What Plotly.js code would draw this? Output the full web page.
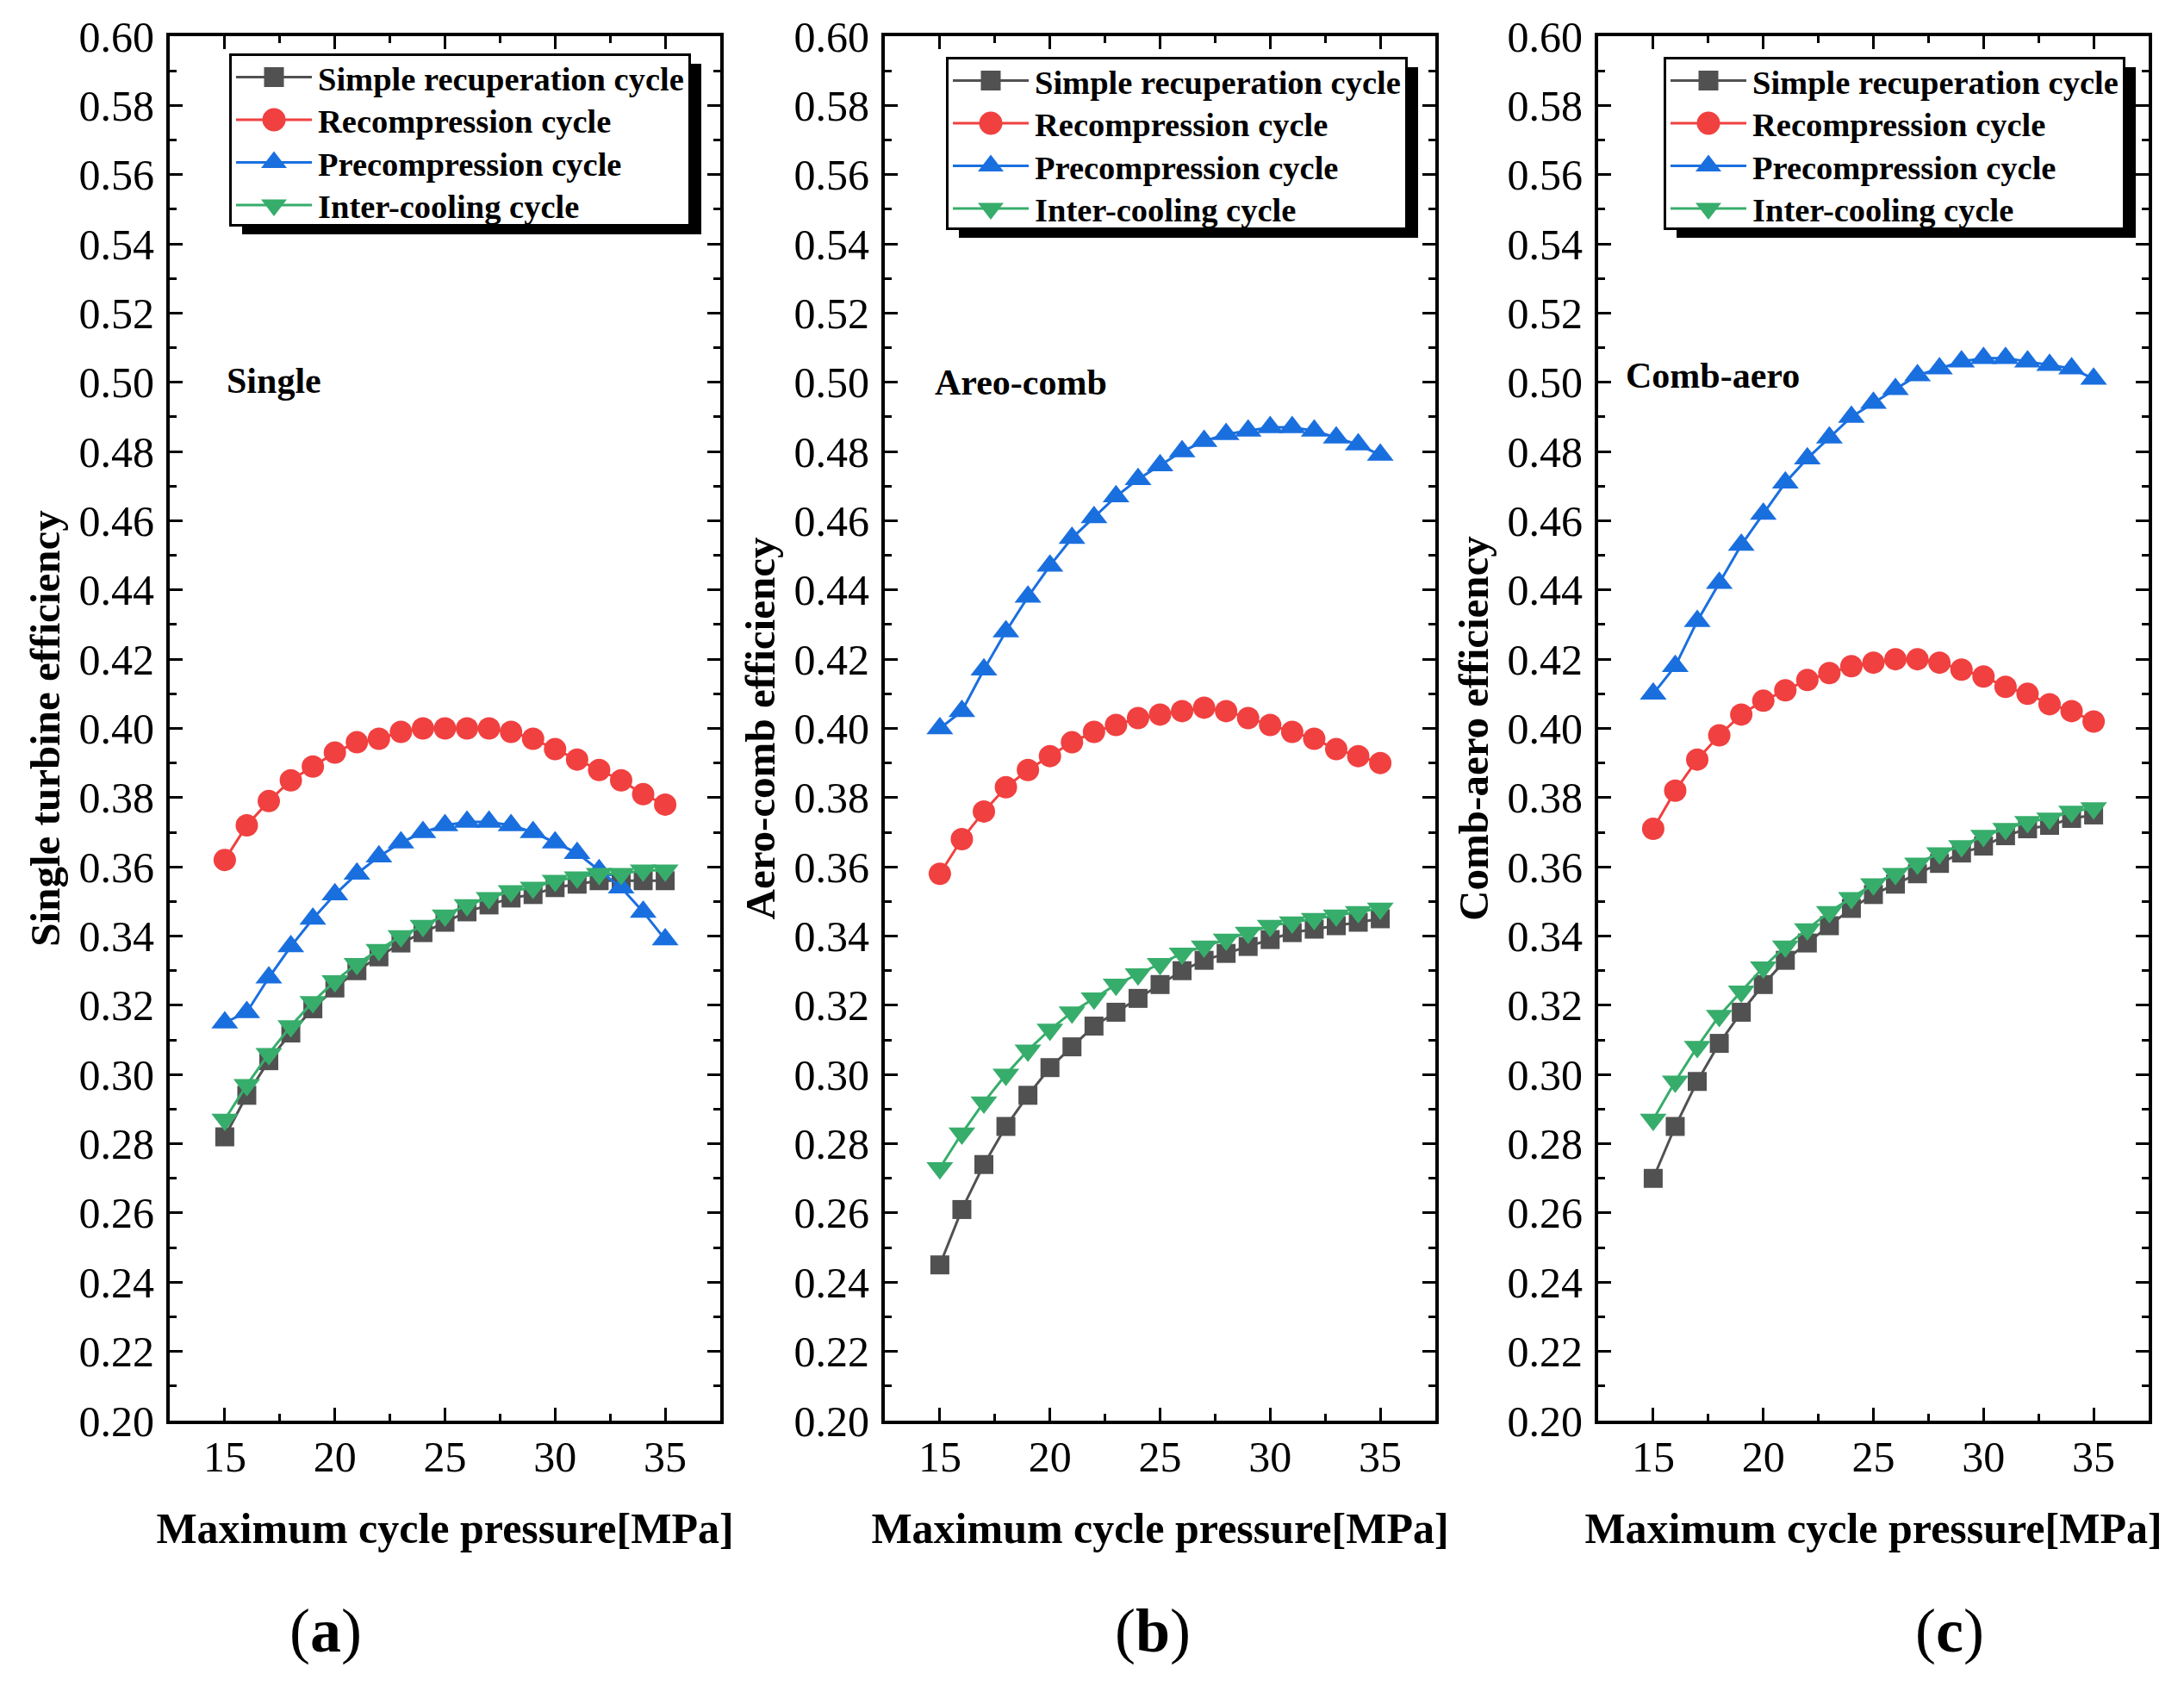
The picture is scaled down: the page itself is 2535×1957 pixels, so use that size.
<!DOCTYPE html>
<html>
<head>
<meta charset="utf-8">
<script src="https://cdn.plot.ly/plotly-3.0.1.min.js"></script>
<style>
  html, body { margin: 0; padding: 0; background: #fff; }
  #chart { width: 2535px; height: 1957px; }
</style>
</head>
<body>
<div id="chart"></div>
<script>
// ---------------- data ----------------
const pressure = [15, 16, 17, 18, 19, 20, 21, 22, 23, 24, 25, 26, 27, 28, 29, 30, 31, 32, 33, 34, 35];

const seriesNames = ["Simple recuperation cycle", "Recompression cycle", "Precompression cycle", "Inter-cooling cycle"];

// (a) Single
const singleSimple  = [0.282, 0.294, 0.304, 0.312, 0.319, 0.325, 0.330, 0.334, 0.338, 0.341, 0.344, 0.347, 0.349, 0.351, 0.352, 0.354, 0.355, 0.356, 0.356, 0.356, 0.356];
const singleRecomp  = [0.362, 0.372, 0.379, 0.385, 0.389, 0.393, 0.396, 0.397, 0.399, 0.400, 0.400, 0.400, 0.400, 0.399, 0.397, 0.394, 0.391, 0.388, 0.385, 0.381, 0.378];
const singlePrecomp = [0.315, 0.318, 0.328, 0.337, 0.345, 0.352, 0.358, 0.363, 0.367, 0.370, 0.372, 0.373, 0.373, 0.372, 0.370, 0.367, 0.364, 0.359, 0.354, 0.347, 0.339];
const singleInter   = [0.287, 0.297, 0.306, 0.314, 0.321, 0.327, 0.332, 0.336, 0.340, 0.343, 0.346, 0.349, 0.351, 0.353, 0.354, 0.356, 0.357, 0.358, 0.358, 0.359, 0.359];

// (b) Aero-comb
const aeroSimple  = [0.245, 0.261, 0.274, 0.285, 0.294, 0.302, 0.308, 0.314, 0.318, 0.322, 0.326, 0.330, 0.333, 0.335, 0.337, 0.339, 0.341, 0.342, 0.343, 0.344, 0.345];
const aeroRecomp  = [0.358, 0.368, 0.376, 0.383, 0.388, 0.392, 0.396, 0.399, 0.401, 0.403, 0.404, 0.405, 0.406, 0.405, 0.403, 0.401, 0.399, 0.397, 0.394, 0.392, 0.390];
const aeroPrecomp = [0.400, 0.405, 0.417, 0.428, 0.438, 0.447, 0.455, 0.461, 0.467, 0.472, 0.476, 0.480, 0.483, 0.485, 0.486, 0.487, 0.487, 0.486, 0.484, 0.482, 0.479];
const aeroInter   = [0.273, 0.283, 0.292, 0.300, 0.307, 0.313, 0.318, 0.322, 0.326, 0.329, 0.332, 0.335, 0.337, 0.339, 0.341, 0.343, 0.344, 0.345, 0.346, 0.347, 0.348];

// (c) Comb-aero
const combSimple  = [0.270, 0.285, 0.298, 0.309, 0.318, 0.326, 0.333, 0.338, 0.343, 0.348, 0.352, 0.355, 0.358, 0.361, 0.364, 0.366, 0.369, 0.371, 0.372, 0.374, 0.375];
const combRecomp  = [0.371, 0.382, 0.391, 0.398, 0.404, 0.408, 0.411, 0.414, 0.416, 0.418, 0.419, 0.420, 0.420, 0.419, 0.417, 0.415, 0.412, 0.410, 0.407, 0.405, 0.402];
const combPrecomp = [0.410, 0.418, 0.431, 0.442, 0.453, 0.462, 0.471, 0.478, 0.484, 0.490, 0.494, 0.498, 0.502, 0.504, 0.506, 0.507, 0.507, 0.506, 0.505, 0.504, 0.501];
const combInter   = [0.287, 0.298, 0.308, 0.317, 0.324, 0.331, 0.337, 0.342, 0.347, 0.351, 0.355, 0.358, 0.361, 0.364, 0.366, 0.369, 0.371, 0.373, 0.374, 0.376, 0.377];

const panelSeries = [
  [singleSimple, singleRecomp, singlePrecomp, singleInter],
  [aeroSimple, aeroRecomp, aeroPrecomp, aeroInter],
  [combSimple, combRecomp, combPrecomp, combInter]
];
const yTitles = ["Single turbine efficiency", "Aero-comb efficiency", "Comb-aero efficiency"];
const insideLabels = ["Single", "Areo-comb", "Comb-aero"];
const panelLabels = ["(<b>a</b>)", "(<b>b</b>)", "(<b>c</b>)"];
const xTitle = "Maximum cycle pressure[MPa]";

// ---------------- style ----------------
const W = 2535, H = 1957;
const FONT = "Liberation Serif, 'Times New Roman', Times, serif";
const colors = ["#515151", "#F14040", "#1A6FDF", "#37AD6B"];
const symbols = ["square", "circle", "triangle-up", "triangle-down"];
const msizes = [22, 26, 27, 27];
const legendMarkerW = [23, 27, 30, 30];
const LEGEND_PX = 38.5;
const LEGEND_PITCH = 49.5, LEGEND_SHIFT = -7;

const plotLeft = [197, 1027, 1855];
const plotW = 639;
const plotTop = 42, plotBottom = 1649;
const legendPos = [[266, 62], [1098, 66], [1931, 66]];
const insidePos = [[261, 442], [1083, 444], [1885, 436]];
const labelPos = [[378, 1893], [1338, 1893], [2263, 1893]];

const traces = [];
const layout = {
  width: W, height: H,
  margin: {l: 0, r: 0, t: 0, b: 0, pad: 0},
  paper_bgcolor: "#fff", plot_bgcolor: "#fff",
  font: {family: FONT, color: "#000"},
  showlegend: true,
  annotations: []
};

for (let p = 0; p < 3; p++) {
  const sfx = p === 0 ? "" : String(p + 1);
  const xa = "x" + sfx, ya = "y" + sfx;
  const legId = "legend" + sfx;
  for (let s = 0; s < 4; s++) {
    traces.push({
      type: "scatter", mode: "lines+markers",
      x: pressure, y: panelSeries[p][s],
      name: seriesNames[s],
      xaxis: xa, yaxis: ya,
      legend: legId,
      line: {color: colors[s], width: 3},
      marker: {symbol: symbols[s], size: msizes[s], color: colors[s], line: {width: 0}},
      cliponaxis: false
    });
  }
  const dom0 = plotLeft[p] / W, dom1 = (plotLeft[p] + plotW) / W;
  const common = {
    showline: true, linecolor: "#000", linewidth: 4, mirror: "allticks",
    ticks: "inside", ticklen: 15, tickwidth: 3, tickcolor: "#000",
    showgrid: false, zeroline: false, automargin: false,
    tickfont: {family: FONT, size: 50, color: "#000"}
  };
  layout["xaxis" + sfx] = Object.assign({}, common, {
    domain: [dom0, dom1], anchor: ya,
    range: [12.5, 37.5], tick0: 15, dtick: 5,
    ticklabelstandoff: -5,
    minor: {ticks: "inside", ticklen: 8, tickwidth: 3, tickcolor: "#000", tick0: 15, dtick: 2.5, showgrid: false},
    title: {text: xTitle, font: {family: FONT, size: 50, color: "#000", weight: "bold"}, standoff: 39}
  });
  layout["yaxis" + sfx] = Object.assign({}, common, {
    domain: [1 - plotBottom / H, 1 - plotTop / H], anchor: xa,
    range: [0.2, 0.6], tick0: 0.2, dtick: 0.02, tickformat: ".2f",
    ticklabelstandoff: 4,
    minor: {ticks: "inside", ticklen: 8, tickwidth: 3, tickcolor: "#000", tick0: 0.2, dtick: 0.01, showgrid: false},
    title: {text: yTitles[p], font: {family: FONT, size: 49, color: "#000", weight: "bold"}, standoff: 7}
  });
  layout[legId] = {
    x: legendPos[p][0] / W, y: 1 - legendPos[p][1] / H,
    xref: "paper", yref: "paper", xanchor: "left", yanchor: "top",
    bgcolor: "#fff", bordercolor: "#000", borderwidth: 3,
    font: {family: FONT, size: LEGEND_PX, color: "#000", weight: "bold"},
    itemwidth: 90, tracegroupgap: 0, itemclick: false, itemdoubleclick: false
  };
  layout.annotations.push({
    xref: "paper", yref: "paper",
    x: insidePos[p][0] / W, y: 1 - insidePos[p][1] / H,
    xanchor: "left", yanchor: "middle", showarrow: false,
    text: insideLabels[p],
    font: {family: FONT, size: 42, color: "#000", weight: "bold"}
  });
  layout.annotations.push({
    xref: "paper", yref: "paper",
    x: labelPos[p][0] / W, y: 1 - labelPos[p][1] / H,
    xanchor: "center", yanchor: "middle", showarrow: false,
    text: panelLabels[p],
    font: {family: FONT, size: 72, color: "#000"}
  });
}

function parseTranslate(el) {
  const m = (el.getAttribute("transform") || "").match(/translate\(\s*([-\d.e]+)[\s,]+([-\d.e]+)/);
  return m ? [parseFloat(m[1]), parseFloat(m[2])] : null;
}
// Remember the value Plotly wrote (so this can run more than once safely)
function origAttr(el, name) {
  const cur = parseFloat(el.getAttribute(name) || 0);
  const nv = el.getAttribute("data-n-" + name);
  if (nv !== null && parseFloat(nv) === cur) return parseFloat(el.getAttribute("data-o-" + name));
  el.setAttribute("data-o-" + name, cur);
  return cur;
}
function setAttrTracked(el, name, v) {
  el.setAttribute(name, v);
  el.setAttribute("data-n-" + name, v);
}

// Legend styling closer to the original: tighter row pitch, longer line samples,
// larger symbols and a drop shadow.
function styleLegends(gd) {
  const groups = Array.prototype.filter.call(
    gd.querySelectorAll("g.infolayer > g"),
    function (g) { return g.querySelector(":scope > rect.bg") && g.querySelector("g.scrollbox"); }
  );
  groups.forEach(function (leg) {
    const items = Array.prototype.slice.call(leg.querySelectorAll("g.traces"));
    let dyLast = 0;
    let base = null;
    items.forEach(function (tr, i) {
      const t = parseTranslate(tr);
      if (!t) return;
      let oy = t[1];
      const ny = tr.getAttribute("data-ny");
      if (ny !== null && Math.abs(parseFloat(ny) - t[1]) < 1e-6) oy = parseFloat(tr.getAttribute("data-oy"));
      if (base === null) base = oy;
      const newY = base + LEGEND_SHIFT + i * LEGEND_PITCH;
      tr.setAttribute("data-oy", oy);
      tr.setAttribute("data-ny", newY);
      tr.setAttribute("transform", "translate(" + t[0] + "," + newY + ")");
      dyLast = newY - oy;
    });
    const bg = leg.querySelector(":scope > rect.bg");
    const oh = origAttr(bg, "height");
    const nh = oh + dyLast - 10;
    setAttrTracked(bg, "height", nh);
    const old = leg.querySelector(":scope > rect.legshadow");
    if (old) old.remove();
    const sh = bg.cloneNode(false);
    const bx = parseFloat(bg.getAttribute("x") || 0), by = parseFloat(bg.getAttribute("y") || 0);
    sh.setAttribute("x", bx + 13);
    sh.setAttribute("y", by + 10);
    sh.setAttribute("class", "legshadow");
    sh.style.fill = "#000"; sh.style.stroke = "none"; sh.style.fillOpacity = 1;
    leg.insertBefore(sh, bg);
    items.forEach(function (tr, idx) {
      const ln = tr.querySelector(".legendlines path");
      if (ln) ln.setAttribute("d", "M5,0h88");
      tr.querySelectorAll(".legendpoints path.scatterpts").forEach(function (pt) {
        pt.removeAttribute("transform");
        let w = 16;
        try { const bb = pt.getBBox(); if (bb && bb.width > 0) w = bb.width; } catch (e) {}
        const k = legendMarkerW[idx % 4] / w;
        pt.setAttribute("transform", "translate(49,0) scale(" + k.toFixed(3) + ")");
      });
    });
  });
}

const gd = document.getElementById("chart");
Plotly.newPlot(gd, traces, layout, {displayModeBar: false, responsive: false}).then(function () {
  styleLegends(gd);
  gd.on("plotly_afterplot", function () { styleLegends(gd); });
  setTimeout(function () { styleLegends(gd); }, 200);
  setTimeout(function () { styleLegends(gd); }, 800);
});
</script>
</body>
</html>
